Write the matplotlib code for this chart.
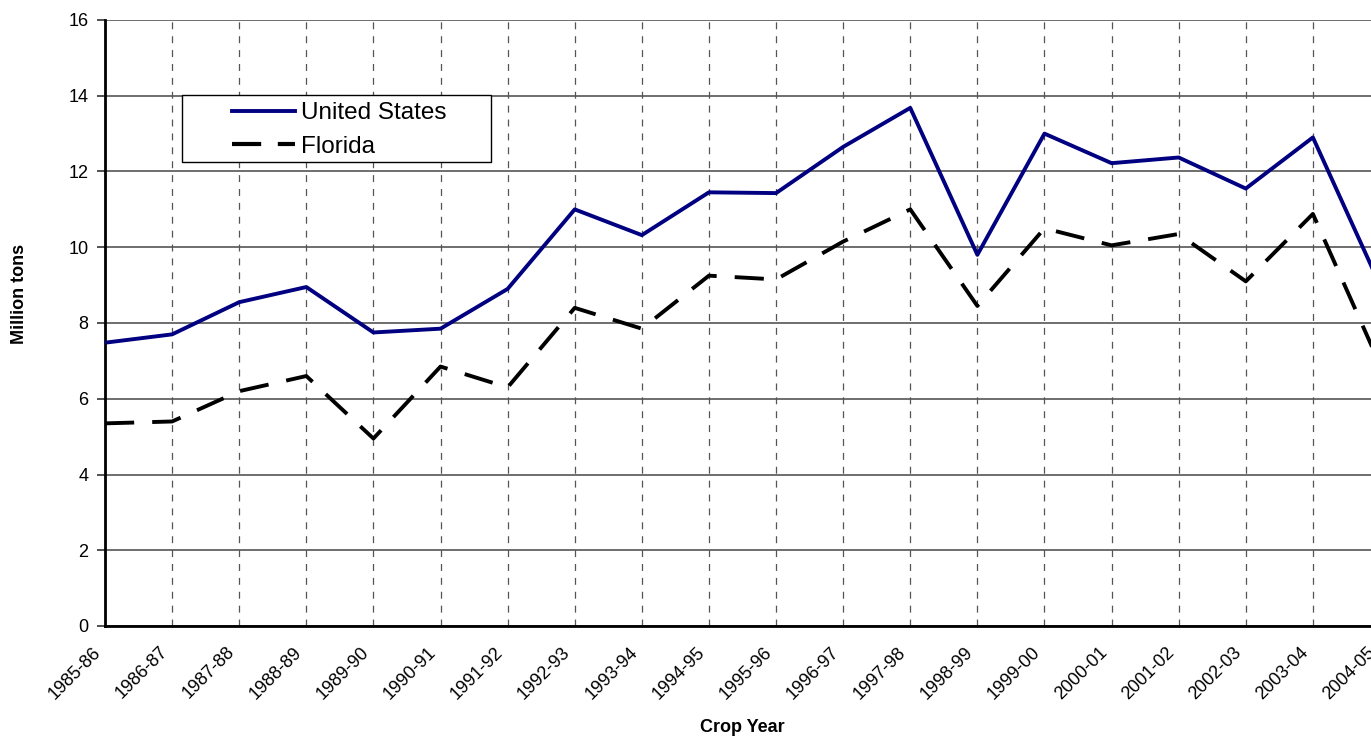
import matplotlib
matplotlib.use('Agg')
import matplotlib.pyplot as plt
from matplotlib.lines import Line2D
from matplotlib.patches import Rectangle
from matplotlib.transforms import ScaledTranslation

plt.rcParams['font.family'] = ['Liberation Sans', 'DejaVu Sans']
plt.rcParams['lines.scale_dashes'] = False

years = ['1985-86', '1986-87', '1987-88', '1988-89', '1989-90', '1990-91',
         '1991-92', '1992-93', '1993-94', '1994-95', '1995-96', '1996-97',
         '1997-98', '1998-99', '1999-00', '2000-01', '2001-02', '2002-03',
         '2003-04', '2004-05']
us = [7.48, 7.7, 8.55, 8.95, 7.75, 7.85, 8.9, 11.0, 10.32, 11.45, 11.43, 12.65,
      13.68, 9.8, 13.0, 12.22, 12.37, 11.55, 12.9, 9.0]
florida = [5.35, 5.4, 6.2, 6.6, 4.95, 6.85, 6.3, 8.4, 7.85, 9.25, 9.15, 10.15,
           11.0, 8.45, 10.5, 10.05, 10.35, 9.1, 10.88, 6.9]

W, H = 1371, 736
fig = plt.figure(figsize=(W / 100, H / 100), dpi=100, facecolor='white')
# plot area runs past the right edge of the picture, as in the source
x0, x1, y0, y1 = 105, 1380, 20, 626
ax = fig.add_axes([x0 / W, 1 - y1 / H, (x1 - x0) / W, (y1 - y0) / H])

xs = list(range(len(years)))
ax.plot(xs, us, color='#000080', lw=2.8, zorder=3)
ax.plot(xs, florida, color='black', lw=2.8, dashes=(21, 13), zorder=3)

ax.set_xlim(0, len(years) - 1)
ax.set_ylim(0, 16)
ax.set_yticks(range(0, 17, 2))
ax.set_xticks(xs)
ax.set_xticks(xs[::2], minor=True)
ax.tick_params(axis='x', which='major', length=0, pad=17)
ax.tick_params(axis='x', which='minor', length=6, width=1.2, direction='out', color='#333333')
ax.tick_params(axis='y', length=6, width=1.2, labelsize=13, pad=6, color='#333333')
ax.set_xticklabels(years, rotation=45, ha='right', va='center',
                   rotation_mode='anchor', fontsize=13)
shift = ScaledTranslation(-7 / 100, 0, fig.dpi_scale_trans)
for t in ax.xaxis.get_major_ticks():
    t.label1.set_transform(t.label1.get_transform() + shift)

ax.grid(axis='y', color='#555555', lw=1.2, ls='-', zorder=0)
ax.grid(axis='x', which='major', color='#555555', lw=0.9, dashes=(5, 5), zorder=0)
for s in ('top', 'right'):
    ax.spines[s].set_visible(False)
ax.spines['left'].set_linewidth(2.0)
ax.spines['bottom'].set_linewidth(2.0)

ax.set_ylabel('Million tons', fontsize=13, fontweight='bold', va='center')
ax.yaxis.set_label_coords((19 - x0) / (x1 - x0), (y1 - 294) / (y1 - y0))
ax.set_xlabel('Crop Year', fontsize=13, fontweight='bold')
ax.xaxis.set_label_coords(0.5, (y1 - 727) / (y1 - y0))
ax.xaxis.label.set_va('center')

# legend frame drawn by hand to match the Excel box
fig.patches.append(Rectangle((182 / W, 1 - 162 / H), (491 - 182) / W, (162 - 95) / H,
                             transform=fig.transFigure, facecolor='white',
                             edgecolor='black', lw=1.0, zorder=5))
handles = [Line2D([], [], color='#000080', lw=2.8),
           Line2D([], [], color='black', lw=3.0, dashes=(21, 12))]
leg = fig.legend(handles, ['United States', 'Florida'], loc='upper left',
                 bbox_to_anchor=(232 / W, 1 - 102 / H), frameon=False,
                 fontsize=17.5, borderpad=0, borderaxespad=0,
                 handlelength=2.6, handletextpad=0.22, labelspacing=0.48)
leg.set_zorder(6)

fig.savefig('out.png', dpi=100, facecolor='white')
